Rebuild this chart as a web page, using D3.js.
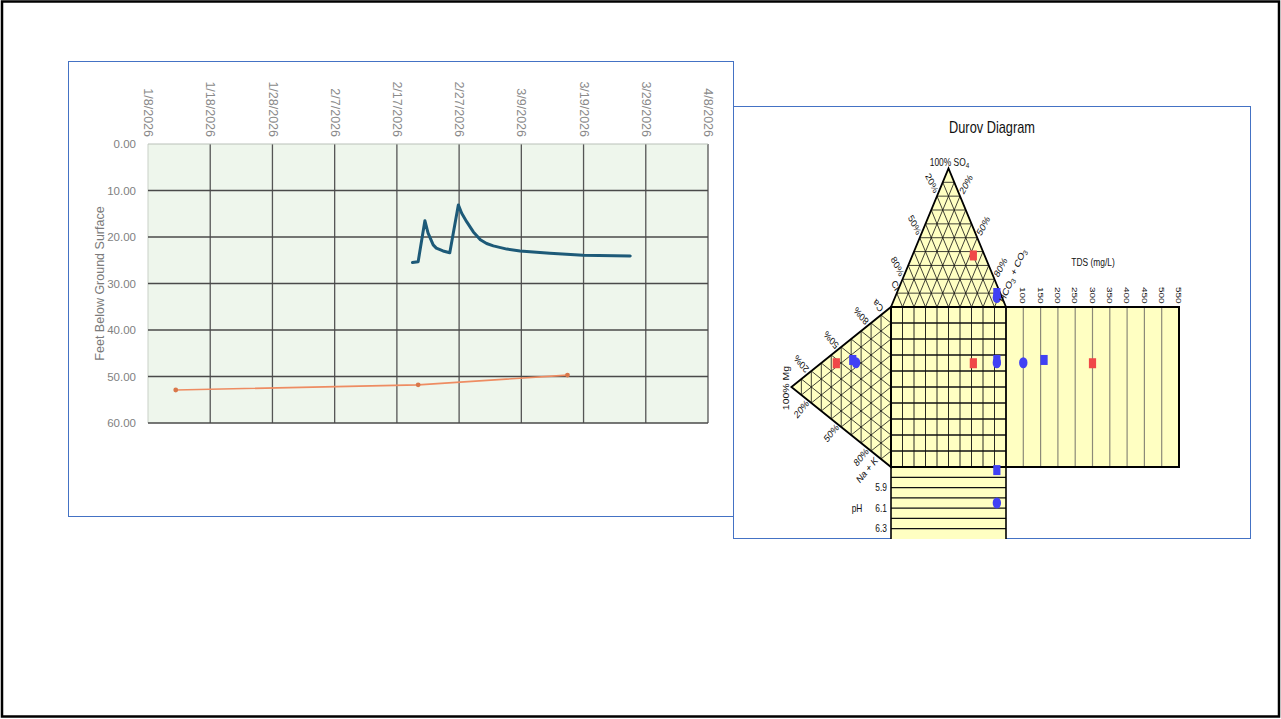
<!DOCTYPE html>
<html lang="en">

<head>
    <meta charset="UTF-8">
    <title>Water level and Durov diagram</title>
    <script src="https://cdn.jsdelivr.net/npm/d3@7"></script>
    <style>
        body {
            margin: 0;
            padding: 0;
            background-color: #fff;
        }

        svg {
            display: block;
            font-family: "Liberation Sans", Arial, Helvetica, sans-serif;
        }
    </style>
</head>

<body>
    <svg id="chart" width="1281" height="719"></svg>
    <script>
        // ---- hydrograph data ----
        const tickDates = ["1/8/2026", "1/18/2026", "1/28/2026", "2/7/2026", "2/17/2026",
            "2/27/2026", "3/9/2026", "3/19/2026", "3/29/2026", "4/8/2026"]
        const depthTicks = [0, 10, 20, 30, 40, 50, 60]

        const loggerTimes = ["2026-02-19T12:00", "2026-02-20T10:00", "2026-02-21T12:00", "2026-02-22T00:00",
            "2026-02-22T20:00", "2026-02-23T08:00", "2026-02-24T10:00", "2026-02-25T12:00",
            "2026-02-26T21:00", "2026-02-27T10:00", "2026-02-28T05:00", "2026-03-01T07:00",
            "2026-03-02T10:00", "2026-03-03T10:00", "2026-03-04T12:00", "2026-03-06T16:00",
            "2026-03-08T19:00", "2026-03-13T14:00", "2026-03-18T22:00", "2026-03-26T12:00"]
        const loggerDepths = [25.5, 25.3, 16.5, 19.1, 21.7, 22.4, 23.0, 23.4,
            13.1, 14.9, 16.7, 18.9, 20.6, 21.4, 21.9, 22.6,
            23.0, 23.5, 23.9, 24.1]

        const manualTimes = ["2026-01-12T11:00", "2026-02-20T10:00", "2026-03-16T10:00"]
        const manualDepths = [52.9, 51.8, 49.7]

        // ---- durov data (three samples) ----
        const sampleColors = ["#f04848", "#4141f4", "#4141f4"]
        const sampleShapes = ["square", "square", "circle"]
        const pctCl = [9.8, 2.9, 4.5]
        const pctSO4 = [37.2, 10.1, 6.9]
        const pctHCO3 = [53.0, 87.0, 88.6]
        const pctCa = [37.4, 47.7, 47.6]
        const pctMg = [54.9, 38.4, 35.1]
        const pctNaK = [7.7, 13.9, 17.3]
        const tdsValues = [300, 160, 100]
        const phValues = [null, 5.73, 6.05]
        const tdsTicks = [100, 150, 200, 250, 300, 350, 400, 450, 500, 550]
        const phTicks = [5.9, 6.1, 6.3]
        const phLines = [5.8, 5.9, 6.0, 6.1, 6.2, 6.3]
        const pctTicks = [20, 50, 80]

        const svg = d3.select("#chart")

        // outer frame
        svg.append("rect")
            .attr("x", 2).attr("y", 1.5).attr("width", 1277).attr("height", 715)
            .attr("fill", "#fff").attr("stroke", "#000").attr("stroke-width", 2.5)

        // ================= hydrograph =================
        svg.append("rect")
            .attr("x", 68.5).attr("y", 61.5).attr("width", 665).attr("height", 455)
            .attr("fill", "#fff").attr("stroke", "#4472c4")

        const parseTick = d3.timeParse("%m/%d/%Y")
        const parseTime = d3.timeParse("%Y-%m-%dT%H:%M")
        const ticks = tickDates.map(parseTick)

        const x = d3.scaleTime().domain(d3.extent(ticks)).range([148, 708])
        const y = d3.scaleLinear().domain([0, 60]).range([144, 423])

        const plot = svg.append("g")

        plot.append("rect")
            .attr("x", x(ticks[0])).attr("y", y(0))
            .attr("width", x(ticks[ticks.length - 1]) - x(ticks[0]))
            .attr("height", y(60) - y(0))
            .attr("fill", "#eef6ec")

        // grid
        plot.selectAll(".vgrid")
            .data(ticks)
            .enter()
            .append("line")
            .attr("x1", d => x(d)).attr("x2", d => x(d))
            .attr("y1", y(0)).attr("y2", y(60))
            .attr("stroke", (d, i) => i == 0 ? "#c9d0c7" : "#555")
            .attr("stroke-width", (d, i) => i == 0 ? 1 : 1.3)

        plot.selectAll(".hgrid")
            .data(depthTicks)
            .enter()
            .append("line")
            .attr("x1", x(ticks[0])).attr("x2", x(ticks[ticks.length - 1]))
            .attr("y1", d => y(d)).attr("y2", d => y(d))
            .attr("stroke", d => d == 0 ? "#b9c0b8" : "#4a4a4a")
            .attr("stroke-width", d => d == 0 ? 1 : 1.6)

        // axes
        const xAxis = d3.axisTop(x)
            .tickValues(ticks)
            .tickFormat(d3.timeFormat("%-m/%-d/%Y"))
            .tickSize(0)

        const gx = svg.append("g")
            .attr("transform", "translate(0," + y(0) + ")")
            .call(xAxis)
        gx.select(".domain").remove()
        gx.selectAll("text")
            .attr("transform", "rotate(90)")
            .attr("x", -7).attr("y", 0).attr("dy", "0.35em")
            .style("text-anchor", "end")
            .attr("fill", "#8a8a8a")
            .style("font-size", "12.5px")

        const yAxis = d3.axisLeft(y)
            .tickValues(depthTicks)
            .tickFormat(d3.format(".2f"))
            .tickSize(0)
            .tickPadding(12)

        const gy = svg.append("g")
            .attr("transform", "translate(" + x(ticks[0]) + ",0)")
            .call(yAxis)
        gy.select(".domain").remove()
        gy.selectAll("text")
            .attr("fill", "#7f7f7f")
            .style("font-size", "11.5px")

        svg.append("text")
            .attr("transform", "translate(104," + ((y(0) + y(60)) / 2) + ") rotate(-90)")
            .attr("text-anchor", "middle")
            .attr("fill", "#7a7a7a")
            .style("font-size", "12.5px")
            .text("Feet Below Ground Surface")

        // series
        const logger = loggerTimes.map((t, i) => ({ t: parseTime(t), v: loggerDepths[i] }))
        const manual = manualTimes.map((t, i) => ({ t: parseTime(t), v: manualDepths[i] }))
        const line = d3.line().x(d => x(d.t)).y(d => y(d.v))

        plot.append("path")
            .datum(manual)
            .attr("d", line)
            .attr("fill", "none")
            .attr("stroke", "#ee8c62")
            .attr("stroke-width", 1.6)

        plot.selectAll(".manual")
            .data(manual)
            .enter()
            .append("circle")
            .attr("cx", d => x(d.t)).attr("cy", d => y(d.v))
            .attr("r", 2.4)
            .attr("fill", "#d9774a")

        plot.append("path")
            .datum(logger)
            .attr("d", line)
            .attr("fill", "none")
            .attr("stroke", "#1d5a78")
            .attr("stroke-width", 3)
            .attr("stroke-linejoin", "round")
            .attr("stroke-linecap", "round")

        // ================= durov diagram =================
        svg.append("rect")
            .attr("x", 733.5).attr("y", 106.5).attr("width", 517).attr("height", 432)
            .attr("fill", "#fff").attr("stroke", "#4472c4")

        const H = Math.sqrt(3) / 2
        const SX = 0.8 // text in this panel is squeezed horizontally
        const xS = d3.scaleLinear().domain([0, 1]).range([891, 1006])
        const yS = d3.scaleLinear().domain([0, 1]).range([307, 467])
        const tdsX = d3.scaleLinear().domain([50, 550]).range([1006, 1179])
        const phY = d3.scaleLinear().domain([5.7, 6.4]).range([467, 539])

        const pt = p => [xS(p[0]), yS(p[1])]
        const mix = (a, b, t) => [a[0] + (b[0] - a[0]) * t, a[1] + (b[1] - a[1]) * t]

        const cCl = [0, 0], cHCO3 = [1, 0], cSO4 = [0.5, -H]
        const cCa = [0, 0], cNaK = [0, 1], cMg = [-H, 0.5]

        const fill = "#ffffc2"
        const dg = svg.append("g")

        // fills
        dg.append("rect")
            .attr("x", xS(1)).attr("y", yS(0)).attr("width", tdsX(550) - xS(1)).attr("height", yS(1) - yS(0))
            .attr("fill", fill)
        dg.append("rect")
            .attr("x", xS(0)).attr("y", yS(1)).attr("width", xS(1) - xS(0)).attr("height", phY(6.4) - yS(1))
            .attr("fill", fill)
        dg.append("rect")
            .attr("x", xS(0)).attr("y", yS(0)).attr("width", xS(1) - xS(0)).attr("height", yS(1) - yS(0))
            .attr("fill", fill)
        dg.selectAll(".tri")
            .data([[cCl, cHCO3, cSO4], [cCa, cNaK, cMg]])
            .enter()
            .append("polygon")
            .attr("points", d => d.map(p => pt(p).join(",")).join(" "))
            .attr("fill", fill)

        // ternary grids
        const tenths = d3.range(1, 10).map(i => i / 10)
        function ternaryLines(A, B, C) {
            const segs = []
            const corners = [[A, B, C], [B, C, A], [C, A, B]]
            corners.forEach(([P, Q, R]) => {
                tenths.forEach(t => segs.push([pt(mix(Q, P, t)), pt(mix(R, P, t))]))
            })
            return segs
        }
        dg.selectAll(".tgrid")
            .data(ternaryLines(cCl, cHCO3, cSO4).concat(ternaryLines(cCa, cNaK, cMg)))
            .enter()
            .append("line")
            .attr("x1", d => d[0][0]).attr("y1", d => d[0][1])
            .attr("x2", d => d[1][0]).attr("y2", d => d[1][1])
            .attr("stroke", "#111").attr("stroke-width", 0.8)

        // square grid
        dg.selectAll(".sqv")
            .data(tenths)
            .enter()
            .append("line")
            .attr("x1", d => xS(d)).attr("x2", d => xS(d))
            .attr("y1", yS(0)).attr("y2", yS(1))
            .attr("stroke", "#111").attr("stroke-width", 0.9)
        dg.selectAll(".sqh")
            .data(tenths)
            .enter()
            .append("line")
            .attr("x1", xS(0)).attr("x2", xS(1))
            .attr("y1", d => yS(d)).attr("y2", d => yS(d))
            .attr("stroke", "#111").attr("stroke-width", 1.4)

        // TDS grid
        dg.selectAll(".tdsv")
            .data(tdsTicks.slice(0, -1))
            .enter()
            .append("line")
            .attr("x1", d => tdsX(d)).attr("x2", d => tdsX(d))
            .attr("y1", yS(0)).attr("y2", yS(1))
            .attr("stroke", "#8c8a78").attr("stroke-width", 1.2)

        // pH grid
        dg.selectAll(".phh")
            .data(phLines)
            .enter()
            .append("line")
            .attr("x1", xS(0)).attr("x2", xS(1))
            .attr("y1", d => phY(d)).attr("y2", d => phY(d))
            .attr("stroke", "#111").attr("stroke-width", 1.3)

        // outlines
        dg.selectAll(".outline")
            .data([[cCl, cHCO3, cSO4], [cCa, cNaK, cMg]])
            .enter()
            .append("polygon")
            .attr("points", d => d.map(p => pt(p).join(",")).join(" "))
            .attr("fill", "none")
            .attr("stroke", "#000").attr("stroke-width", 1.8)
        dg.append("rect")
            .attr("x", xS(0)).attr("y", yS(0)).attr("width", tdsX(550) - xS(0)).attr("height", yS(1) - yS(0))
            .attr("fill", "none").attr("stroke", "#000").attr("stroke-width", 2)
        dg.append("line")
            .attr("x1", xS(1)).attr("x2", xS(1)).attr("y1", yS(0)).attr("y2", yS(1))
            .attr("stroke", "#000").attr("stroke-width", 1.8)
        dg.selectAll(".phside")
            .data([0, 1])
            .enter()
            .append("line")
            .attr("x1", d => xS(d)).attr("x2", d => xS(d))
            .attr("y1", yS(1)).attr("y2", phY(6.4))
            .attr("stroke", "#000").attr("stroke-width", 1.6)

        // samples
        const samples = sampleColors.map((c, i) => {
            const ua = (pctHCO3[i] + pctSO4[i] * 0.5) / 100
            const va = -pctSO4[i] * H / 100
            const uc = -pctMg[i] * H / 100
            const vc = (pctNaK[i] + pctMg[i] * 0.5) / 100
            const pos = [pt([ua, va]), pt([uc, vc]), pt([ua, vc]), [tdsX(tdsValues[i]), yS(vc)]]
            if (phValues[i] != null) pos.push([xS(ua), phY(phValues[i])])
            return { color: c, shape: sampleShapes[i], pos: pos }
        })
        const marks = samples.flatMap(s => s.pos.map(p => ({ color: s.color, shape: s.shape, x: p[0], y: p[1] })))

        dg.selectAll(".sq")
            .data(marks.filter(m => m.shape == "square"))
            .enter()
            .append("rect")
            .attr("x", d => d.x - 3.6).attr("y", d => d.y - 5)
            .attr("width", 7.2).attr("height", 10)
            .attr("fill", d => d.color)
        dg.selectAll(".el")
            .data(marks.filter(m => m.shape == "circle"))
            .enter()
            .append("ellipse")
            .attr("cx", d => d.x).attr("cy", d => d.y)
            .attr("rx", 4.2).attr("ry", 5.6)
            .attr("fill", d => d.color)

        // text helper: screen angle phi, squeezed glyphs
        function dtext(px, py, parts, phi, size, anchor) {
            const a = (phi || 0) * Math.PI / 180
            const th = Math.atan2(SX * Math.sin(a), Math.cos(a)) * 180 / Math.PI
            const t = dg.append("text")
                .attr("transform", "translate(" + px + "," + py + ") scale(" + SX + ",1) rotate(" + th + ")")
                .attr("text-anchor", anchor || "middle")
                .attr("dy", "0.35em")
                .attr("fill", "#111")
                .style("font-size", size + "px")
            if (typeof parts == "string") parts = [parts]
            let sub = false
            parts.forEach(p => {
                const isSub = p.startsWith("_")
                const ts = t.append("tspan").text(isSub ? p.slice(1) : p)
                if (isSub && !sub) ts.attr("dy", "0.3em").style("font-size", (size * 0.75) + "px")
                else if (isSub) ts.style("font-size", (size * 0.75) + "px")
                else if (sub) ts.attr("dy", "-0.3em")
                sub = isSub
            })
            return t
        }

        dtext(992, 127, "Durov Diagram", 0, 16)

        // anion triangle labels
        dtext(pt(cSO4)[0] + 1, pt(cSO4)[1] - 6, ["100% SO", "_4"], 0, 10.5)
        pctTicks.forEach(p => {
            const f = p / 100
            const l = pt(mix(cSO4, cCl, f))
            dtext(l[0] - 5, l[1] - 13, p + "%", 64, 10.5)
            const r = pt(mix(cSO4, cHCO3, f))
            dtext(r[0] + 6, r[1] - 12, p + "%", -62, 10.5)
        })
        const clPos = pt(mix(cSO4, cCl, 0.93))
        dtext(clPos[0] + 0.5, clPos[1] - 12, "Cl", 64, 10.5)
        const hcPos = pt(mix(cSO4, cHCO3, 0.86))
        dtext(hcPos[0] + 15, hcPos[1] - 12, ["HCO", "_3", " + CO", "_3"], -66, 10.5)

        // cation triangle labels
        pctTicks.forEach(p => {
            const f = 1 - p / 100
            const u = pt(mix(cCa, cMg, f))
            dtext(u[0] - 10, u[1] - 7, p + "%", -130, 10.5)
            const d = pt(mix(cNaK, cMg, f))
            dtext(d[0] - 10, d[1] + 6, p + "%", -50, 10.5)
        })
        const caPos = pt(mix(cCa, cMg, 0.06))
        dtext(caPos[0] - 7, caPos[1] - 6, "Ca", -130, 10.5)
        const nkPos = pt(cNaK)
        dtext(nkPos[0] - 24, nkPos[1] + 3, "Na + K", -50, 10.5)
        const mgPos = pt(cMg)
        dtext(mgPos[0] - 5, mgPos[1] + 1, "100% Mg", -90, 10.5)

        // TDS labels
        dtext(1093, 262, "TDS (mg/L)", 0, 10.5)
        tdsTicks.forEach(v => {
            dtext(tdsX(v), 287, String(v), 90, 10, "start")
        })

        // pH labels
        phTicks.forEach(v => {
            dtext(887, phY(v), d3.format(".1f")(v), 0, 10.5, "end")
        })
        dtext(857, phY(6.1), "pH", 0, 10.5)
    </script>
</body>

</html>
